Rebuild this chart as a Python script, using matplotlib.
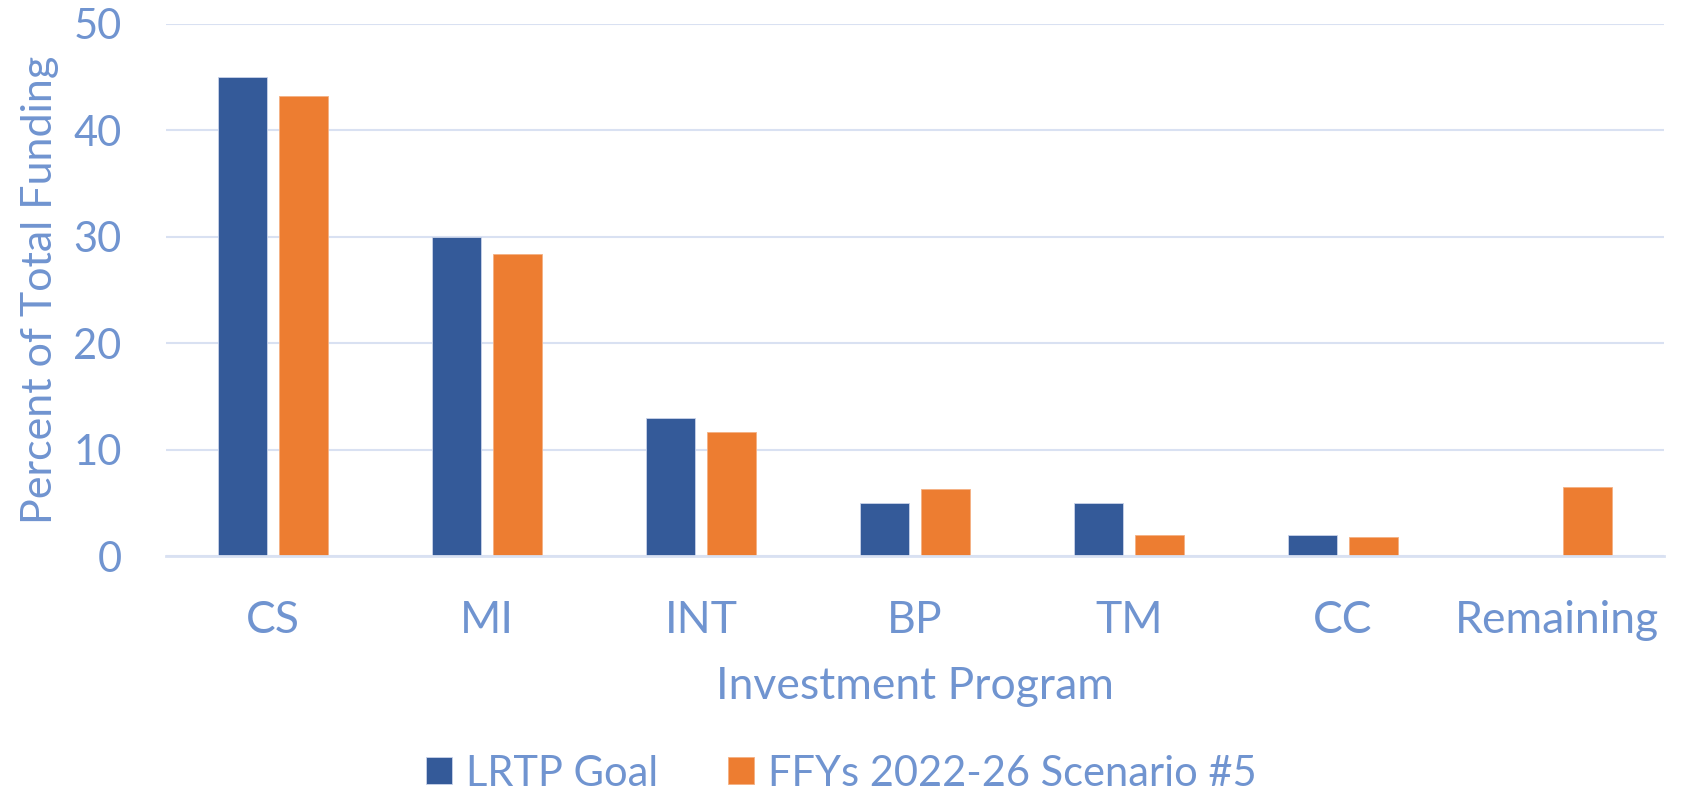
import numpy as np
import matplotlib.pyplot as plt

# Data
programs = ['CS', 'MI', 'INT', 'BP', 'TM', 'CC', 'Remaining']
lrtp_goal = [45, 30, 13, 5, 5, 2, 0]
scenario5 = [43.2, 28.4, 11.6, 6.3, 2.0, 1.8, 6.5]
yticks = [0, 10, 20, 30, 40, 50]

blue = '#345A99'
orange = '#ED7D31'
txt = '#7094D0'
grid = '#D9E1F2'

plt.rcParams['font.family'] = ['Lato', 'DejaVu Sans']

fig = plt.figure(figsize=(16.83, 8), dpi=100)
ax = fig.add_axes([0.0986, 0.305, 0.8902, 0.6655])

x = np.arange(len(programs))
w = 0.229
ax.bar(x - 0.1425, lrtp_goal, w, color=blue, edgecolor='#C9D3EA', linewidth=0.6,
       label='LRTP Goal', zorder=3)
ax.bar(x + 0.1425, scenario5, w, color=orange, edgecolor='#F4B183', linewidth=0.6,
       label='FFYs 2022-26 Scenario #5', zorder=3)

ax.set_xlim(-0.5, len(programs) - 0.5)
ax.set_ylim(0, 50)
ax.set_yticks(yticks)
ax.set_xticks(x)
ax.set_xticklabels(programs)
ax.yaxis.grid(True, color=grid, linewidth=1.5, zorder=0)
ax.set_axisbelow(True)
for s in ['top', 'right', 'left']:
    ax.spines[s].set_visible(False)
ax.spines['bottom'].set_color(grid)
ax.spines['bottom'].set_linewidth(2)
ax.spines['bottom'].set_zorder(4)

ax.tick_params(axis='both', length=0, colors=txt)
ax.tick_params(axis='x', labelsize=32, pad=32)
ax.tick_params(axis='y', labelsize=30, pad=32)

ax.set_xlabel('Investment Program', fontsize=32, color=txt, labelpad=18)
ax.set_ylabel('Percent of Total Funding', fontsize=31, color=txt, labelpad=10)

# legend at the very bottom of the figure
ax.legend(loc='center', bbox_to_anchor=(0.5, 0.033), bbox_transform=fig.transFigure,
          ncol=2, frameon=False, fontsize=30, labelcolor=txt, handlelength=0.62,
          handleheight=0.62, handletextpad=0.34, columnspacing=1.68)

plt.savefig('out.png', dpi=100)
